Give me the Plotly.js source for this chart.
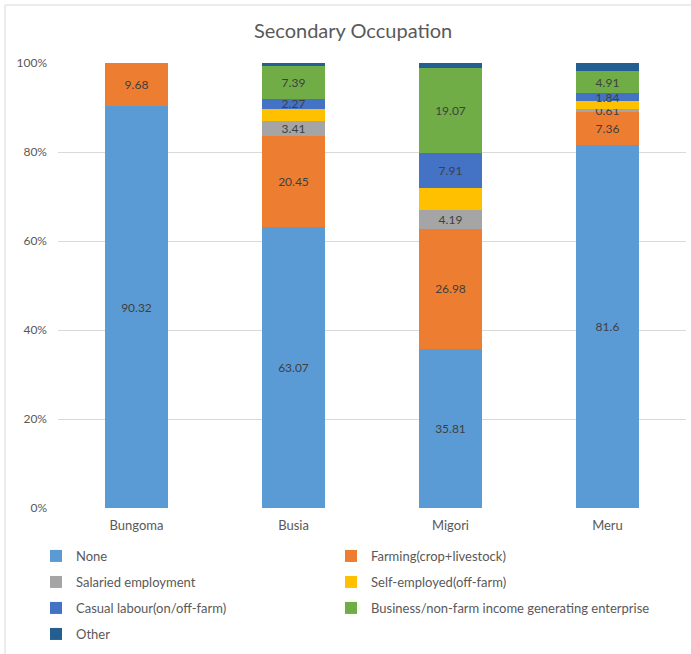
<!DOCTYPE html>
<html>
<head>
<meta charset="utf-8">
<script src="https://cdn.plot.ly/plotly-3.0.1.min.js"></script>
<style>html,body{margin:0;padding:0;background:#fff;}#chart{width:691px;height:654px;}</style>
</head>
<body>
<div id="chart"></div>
<script>
// Categories
const counties = ['Bungoma', 'Busia', 'Migori', 'Meru'];

// Series values (percent)
const none        = [90.32, 63.07, 35.81, 81.6];
const farming     = [9.68, 20.45, 26.98, 7.36];
const salaried    = [0, 3.41, 4.19, 0.61];
const selfEmp     = [0, 2.75, 4.95, 1.80];
const casual      = [0, 2.27, 7.91, 1.84];
const business    = [0, 7.39, 19.07, 4.91];
const other       = [0, 0.66, 1.09, 1.88];

// Series names
const seriesNames = [
  'None',
  'Farming(crop+livestock)',
  'Salaried employment',
  'Self-employed(off-farm)',
  'Casual labour(on/off-farm)',
  'Business/non-farm income generating enterprise',
  'Other'
];
const seriesValues = [none, farming, salaried, selfEmp, casual, business, other];
const seriesLabeled = [true, true, true, false, true, true, false];
const seriesColors = ['#5B9BD5', '#ED7D31', '#A5A5A5', '#FFC000', '#4472C4', '#70AD47', '#255E91'];

// Legend grid: column (0 left, 1 right) and row for each series
const legendCol = [0, 1, 0, 1, 0, 1, 0];
const legendRow = [0, 0, 1, 1, 2, 2, 3];

const font = 'Lato, "Open Sans", sans-serif';

// Y tick values
const yTicks = [0, 20, 40, 60, 80, 100];

const legendIds = seriesNames.map((n, i) => i === 0 ? 'legend' : 'legend' + (i + 1));

const traces = seriesNames.map((name, i) => ({
  type: 'bar',
  name: name,
  x: counties,
  y: seriesValues[i],
  marker: {color: seriesColors[i], line: {width: 0}},
  text: seriesValues[i].map(v => (seriesLabeled[i] && v > 0) ? String(v) : ''),
  textposition: seriesLabeled[i] ? 'inside' : 'none',
  insidetextanchor: 'middle',
  textangle: 0,
  constraintext: 'none',
  textfont: {family: font, size: 12, color: '#404040'},
  legend: legendIds[i],
  hoverinfo: 'name+y'
}));

const L = 58, R = 686, T = 63, B = 508, W = 691, H = 654;
const px = x => (x - L) / (R - L);
const py = y => (B - y) / (B - T);

const colX = [36, 331];
const rowY = [556, 582, 608, 634];

function legendAt(xl, yc) {
  return {
    orientation: 'h',
    x: px(xl), xanchor: 'left',
    y: py(yc), yanchor: 'middle',
    font: {family: font, size: 13, color: '#595959'},
    bgcolor: 'rgba(0,0,0,0)', borderwidth: 0
  };
}

const layout = {
  width: W, height: H,
  margin: {l: L, r: W - R, t: T, b: H - B, pad: 0},
  paper_bgcolor: '#ffffff',
  plot_bgcolor: '#ffffff',
  barmode: 'stack',
  bargap: 0.605,
  font: {family: font, color: '#595959'},
  title: {
    text: 'Secondary Occupation',
    font: {family: font, size: 20, color: '#595959'},
    x: 0.511, xref: 'container', xanchor: 'center',
    y: 1 - 31 / H, yref: 'container', yanchor: 'middle'
  },
  xaxis: {
    type: 'category',
    showgrid: false, zeroline: false, showline: false,
    ticks: '', ticklabelstandoff: 8,
    tickfont: {family: font, size: 13, color: '#595959'},
    fixedrange: true
  },
  yaxis: {
    range: [0, 100],
    tickvals: yTicks,
    ticktext: yTicks.map(v => v + '%'),
    showgrid: true, gridcolor: '#d9d9d9', gridwidth: 1,
    zeroline: false, showline: false,
    ticks: '', ticklabelstandoff: 10,
    tickfont: {family: font, size: 12, color: '#595959'},
    fixedrange: true
  },
  showlegend: true,
  shapes: [
    {type: 'line', xref: 'paper', yref: 'paper', x0: px(5), x1: px(5), y0: py(5), y1: py(H + 5), line: {color: '#d9d9d9', width: 1}},
    {type: 'line', xref: 'paper', yref: 'paper', x0: px(5), x1: px(W + 5), y0: py(5), y1: py(5), line: {color: '#d9d9d9', width: 1}}
  ]
};
legendIds.forEach((id, i) => {
  layout[id] = legendAt(colX[legendCol[i]], rowY[legendRow[i]]);
});

Plotly.newPlot('chart', traces, layout, {displayModeBar: false, staticPlot: true});
</script>
</body>
</html>
